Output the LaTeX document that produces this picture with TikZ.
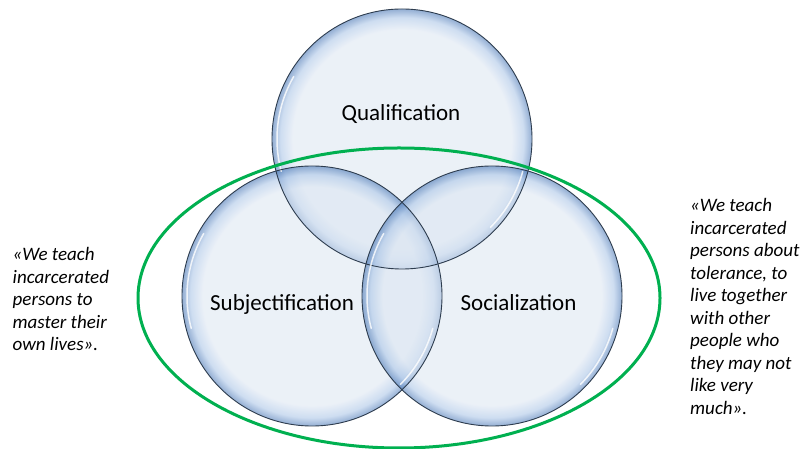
\documentclass[tikz,border=0pt]{standalone}
\usepackage{fontspec}
\setmainfont{Carlito}
\usetikzlibrary{calc}
\definecolor{bubA}{HTML}{DCE6F2}
\definecolor{bubB}{HTML}{A6C2E6}
\definecolor{bubC}{HTML}{3C6DB0}
\definecolor{outl}{HTML}{2E3D4F}
\definecolor{ringgreen}{HTML}{00B050}
\pgfdeclareradialshading{bubble}{\pgfpoint{0bp}{0bp}}{color(0bp)=(bubA); color(21bp)=(bubA); color(23.4bp)=(bubB); color(25bp)=(bubC); color(50bp)=(bubC)}
\tikzset{
  bubblefill/.style={shading=bubble, opacity=0.55},
  bubbleline/.style={draw=outl, line width=0.9pt},
  shine/.style={draw=white, line width=1.5pt, line cap=round, opacity=0.8},
  ring/.style={draw=ringgreen, line width=3pt},
  setlabel/.style={font=\fontsize{23}{27.6}\selectfont, inner sep=0pt, anchor=base},
  quote/.style={font=\fontsize{19}{22.5}\selectfont\itshape, align=left, inner sep=0pt, anchor=north west}
}
\begin{document}
\begin{tikzpicture}[x=1pt,y=1pt]
\useasboundingbox (0,0) rectangle (802,449);
\fill[white] (0,0) rectangle (802,449);
% centres
\coordinate (cq) at (402,310);
\coordinate (cs) at (312,153);
\coordinate (cz) at (492,153);
\coordinate (ce) at (399,151);
% bubbles
\foreach \c in {cq,cs,cz}{
  \shade[bubblefill] (\c) circle[radius=130];
}
\foreach \c in {cq,cs,cz}{
  \draw[bubbleline] (\c) circle[radius=130];
  \draw[shine] ($(\c)+(150:125)$) arc[start angle=150, end angle=195, radius=125];
  \draw[shine] ($(\c)+(-45:125)$) arc[start angle=-45, end angle=-15, radius=125];
}
% green ellipse
\draw[ring] (ce) ellipse[x radius=261, y radius=150];
% labels
\node[setlabel] (q) at (401,328) {Qualification};
\node[setlabel] (s) at (282,138) {Subjectification};
\node[setlabel] (z) at (518.5,138) {Socialization};
% quotes
\node[quote] (lq) at (12.5,201.8) {«We teach\\incarcerated\\persons to\\master their\\own lives».};
\node[quote] (rq) at (690,250.8) {«We teach\\incarcerated\\persons about\\tolerance, to\\live together\\with other\\people who\\they may not\\like very\\much».};
\end{tikzpicture}
\end{document}
